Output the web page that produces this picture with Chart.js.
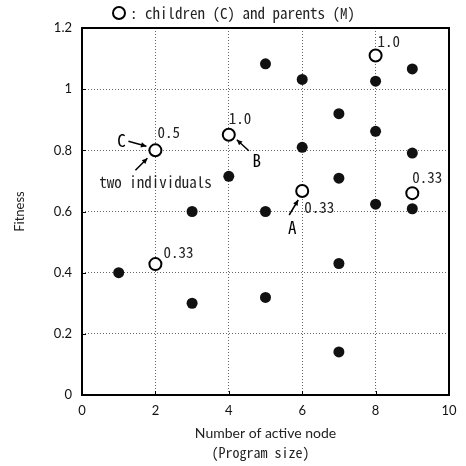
<!DOCTYPE html>
<html>
<head>
<meta charset="utf-8">
<script src="https://cdn.jsdelivr.net/npm/chart.js@4/dist/chart.umd.min.js"></script>
<style>
html,body{margin:0;padding:0;background:#fff;}
#wrap{width:466px;height:466px;}
</style>
</head>
<body>
<div id="wrap"><canvas id="c" width="466" height="466"></canvas></div>
<script>
// Filled markers (individuals)
const filledX = [1, 3, 3, 4, 5, 5, 5, 6, 6, 7, 7, 7, 7, 8, 8, 8, 9, 9, 9];
const filledY = [0.40, 0.60, 0.30, 0.715, 1.083, 0.60, 0.319, 1.032, 0.81, 0.92, 0.709, 0.43, 0.141, 1.026, 0.862, 0.624, 1.066, 0.791, 0.609];
// Open markers: children (C) and parents (M)
const openX = [2, 4, 6, 8, 9, 2];
const openY = [0.80, 0.851, 0.667, 1.11, 0.66, 0.428];
const openLabels = ['0.5', '1.0', '0.33', '1.0', '0.33', '0.33'];
// Axis ticks
const xTicks = [0, 2, 4, 6, 8, 10];
const yTicks = [0, 0.2, 0.4, 0.6, 0.8, 1, 1.2];
const xTitle = 'Number of active node';
const xSubTitle = '(Program size)';
const yTitle = 'Fitness';
const legendText = ': children (C) and parents (M)';

const MONO = '"Noto Sans Mono CJK JP", "DejaVu Sans Mono", monospace';
const SANS = 'Lato, "Noto Sans", sans-serif';

function arrow(ctx, x1, y1, x2, y2) {
  ctx.beginPath();
  ctx.moveTo(x1, y1);
  ctx.lineTo(x2, y2);
  ctx.stroke();
  const a = Math.atan2(y2 - y1, x2 - x1);
  const L = 6, W = 0.45;
  ctx.beginPath();
  ctx.moveTo(x2, y2);
  ctx.lineTo(x2 - L * Math.cos(a - W), y2 - L * Math.sin(a - W));
  ctx.lineTo(x2 - L * Math.cos(a + W), y2 - L * Math.sin(a + W));
  ctx.closePath();
  ctx.fill();
}

// label offsets (px) relative to each open marker
const labelOffsets = [[2, -18], [0, -16], [2, 16], [2, -14], [0, -16], [8, -12]];

const deco = {
  id: 'deco',
  afterDatasetsDraw(chart) {
    const ctx = chart.ctx;
    const xs = chart.scales.x, ys = chart.scales.y;
    const ca = chart.chartArea;
    ctx.save();
    // frame
    ctx.strokeStyle = '#000';
    ctx.lineWidth = 2;
    ctx.strokeRect(ca.left, ca.top, ca.right - ca.left, ca.bottom - ca.top);
    // inner ticks
    ctx.lineWidth = 1;
    xTicks.forEach(v => {
      const p = Math.round(xs.getPixelForValue(v)) + 0.5;
      ctx.beginPath(); ctx.moveTo(p, ca.bottom); ctx.lineTo(p, ca.bottom - 4); ctx.stroke();
    });
    yTicks.forEach(v => {
      const p = Math.round(ys.getPixelForValue(v)) + 0.5;
      ctx.beginPath(); ctx.moveTo(ca.left, p); ctx.lineTo(ca.left + 4, p); ctx.stroke();
    });
    // value labels
    ctx.fillStyle = '#222';
    ctx.font = '15px ' + MONO;
    ctx.textAlign = 'left';
    ctx.textBaseline = 'middle';
    openX.forEach((x, i) => {
      const px = xs.getPixelForValue(x), py = ys.getPixelForValue(openY[i]);
      ctx.fillText(openLabels[i], px + labelOffsets[i][0], py + labelOffsets[i][1]);
    });
    // annotations
    ctx.strokeStyle = '#000';
    ctx.fillStyle = '#000';
    ctx.lineWidth = 1.5;
    const c = [xs.getPixelForValue(openX[0]), ys.getPixelForValue(openY[0])];
    const b = [xs.getPixelForValue(openX[1]), ys.getPixelForValue(openY[1])];
    const a = [xs.getPixelForValue(openX[2]), ys.getPixelForValue(openY[2])];
    ctx.font = '17px ' + MONO;
    ctx.textAlign = 'center';
    ctx.fillText('C', c[0] - 34, c[1] - 10);
    arrow(ctx, c[0] - 27, c[1] - 9, c[0] - 9, c[1] - 4);
    arrow(ctx, c[0] - 20, c[1] + 20, c[0] - 8, c[1] + 8);
    ctx.fillText('B', b[0] + 28, b[1] + 26);
    arrow(ctx, b[0] + 20, b[1] + 16, b[0] + 8, b[1] + 5);
    ctx.fillText('A', a[0] - 10, a[1] + 37);
    arrow(ctx, a[0] - 13, a[1] + 24, a[0] - 4, a[1] + 9);
    ctx.font = '15px ' + MONO;
    ctx.fillStyle = '#222';
    ctx.fillText('two individuals', c[0], c[1] + 32);
    // legend
    ctx.lineWidth = 2;
    ctx.strokeStyle = '#000';
    ctx.fillStyle = '#fff';
    ctx.beginPath(); ctx.arc(119, 13, 6, 0, Math.PI * 2); ctx.fill(); ctx.stroke();
    ctx.fillStyle = '#222';
    ctx.textAlign = 'left';
    ctx.font = '15px ' + MONO;
    ctx.fillText(legendText, 130, 13);
    // axis titles
    const cx = (ca.left + ca.right) / 2;
    ctx.textAlign = 'center';
    ctx.font = '14px ' + SANS;
    ctx.fillText(xTitle, cx, 433);
    ctx.font = '14px ' + MONO;
    ctx.fillText(xSubTitle, cx - 5, 453);
    ctx.save();
    ctx.translate(20, (ca.top + ca.bottom) / 2);
    ctx.rotate(-Math.PI / 2);
    ctx.font = '13px ' + SANS;
    ctx.fillText(yTitle, 0, 0);
    ctx.restore();
    ctx.restore();
  }
};

new Chart(document.getElementById('c'), {
  type: 'scatter',
  data: {
    datasets: [
      {
        label: 'individuals',
        data: filledX.map((x, i) => ({x: x, y: filledY[i]})),
        backgroundColor: '#111',
        borderWidth: 0,
        pointRadius: 5.5,
        pointHoverRadius: 5.5
      },
      {
        label: 'children (C) and parents (M)',
        data: openX.map((x, i) => ({x: x, y: openY[i]})),
        backgroundColor: '#fff',
        borderColor: '#000',
        borderWidth: 2,
        pointRadius: 6,
        pointHoverRadius: 6
      }
    ]
  },
  options: {
    responsive: false,
    animation: false,
    devicePixelRatio: 1,
    layout: {padding: {left: 0, top: 28, right: 17, bottom: 0}},
    plugins: {legend: {display: false}, tooltip: {enabled: false}},
    scales: {
      x: {
        type: 'linear', min: 0, max: 10,
        afterBuildTicks: s => { s.ticks = xTicks.map(v => ({value: v})); },
        afterFit: s => { s.height = 71; },
        grid: {color: '#666', lineWidth: 1, drawTicks: false},
        border: {display: false, dash: [1, 2]},
        ticks: {color: '#111', font: {family: SANS, size: 13}, padding: 8}
      },
      y: {
        type: 'linear', min: 0, max: 1.2,
        afterBuildTicks: s => { s.ticks = yTicks.map(v => ({value: v})); },
        afterFit: s => { s.width = 82; },
        grid: {color: '#666', lineWidth: 1, drawTicks: false},
        border: {display: false, dash: [1, 2]},
        ticks: {color: '#111', font: {family: SANS, size: 13}, padding: 10,
          callback: v => String(Math.round(v * 10) / 10)}
      }
    }
  },
  plugins: [deco]
});
</script>
</body>
</html>
